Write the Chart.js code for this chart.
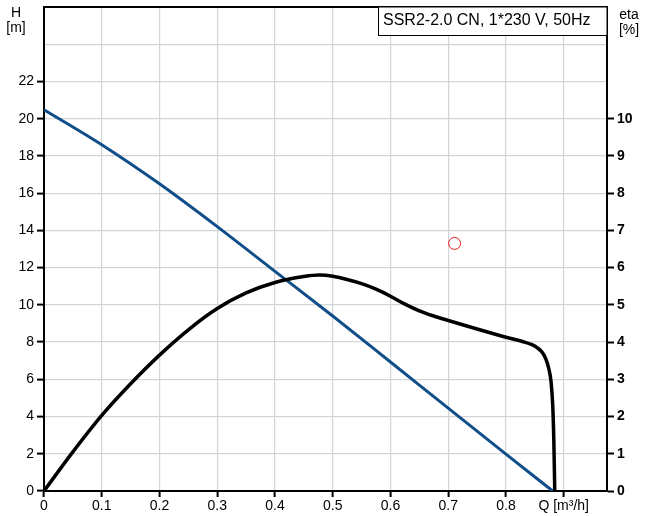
<!DOCTYPE html>
<html>
<head>
<meta charset="utf-8">
<script src="https://cdn.jsdelivr.net/npm/chart.js@4.4.1/dist/chart.umd.min.js"></script>
<style>
  html, body { margin: 0; padding: 0; background: #fff; }
  #wrap { width: 649px; height: 516px; }
</style>
</head>
<body>
<div id="wrap"><canvas id="myChart" width="649" height="516"></canvas></div>
<script>
// head curve H [m]
const qHead = [0, 0.1, 0.2, 0.3, 0.4, 0.5, 0.6, 0.7, 0.8, 0.881];
const headValues = [20.48, 18.6, 16.5, 14.2, 11.8, 9.4, 6.93, 4.45, 1.98, 0];

// efficiency curve eta [%]
const qEta = [0, 0.05, 0.1, 0.15, 0.2, 0.25, 0.3, 0.35, 0.4, 0.45, 0.477, 0.5, 0.55, 0.575, 0.6, 0.625, 0.65, 0.675, 0.7, 0.75, 0.8, 0.83, 0.845, 0.855, 0.863, 0.869, 0.874, 0.878, 0.881, 0.883, 0.8845];
const etaValues = [0, 1.05, 2.03, 2.88, 3.65, 4.33, 4.9, 5.32, 5.6, 5.76, 5.8, 5.77, 5.57, 5.42, 5.23, 5.02, 4.84, 4.7, 4.58, 4.35, 4.13, 4.01, 3.93, 3.84, 3.72, 3.55, 3.3, 2.95, 2.3, 1.3, 0];

// duty point
const dutyQ = [0.711];
const dutyH = [13.3];

const titleText = 'SSR2-2.0 CN, 1*230 V, 50Hz';
const FONT = '"Liberation Sans", Arial, sans-serif';

function toPoints(xs, ys) {
    return xs.map((x, i) => ({ x: x, y: ys[i] }));
}

const frame = {
    id: 'frame',
    afterDraw(chart) {
        const ctx = chart.ctx;
        const a = chart.chartArea;
        ctx.save();
        // top border
        ctx.strokeStyle = '#000';
        ctx.lineWidth = 2;
        ctx.beginPath();
        ctx.moveTo(a.left - 1, a.top);
        ctx.lineTo(a.right + 1, a.top);
        ctx.stroke();
        // title box
        ctx.fillStyle = '#fff';
        ctx.fillRect(378, a.top, a.right - 378, 28);
        ctx.lineWidth = 1;
        ctx.strokeRect(378.5, a.top, a.right - 378.5, 28.5);
        ctx.fillStyle = '#000';
        ctx.font = '16px ' + FONT;
        ctx.textBaseline = 'middle';
        ctx.textAlign = 'left';
        ctx.fillText(titleText, 383, a.top + 14);
        // axis titles
        ctx.textAlign = 'center';
        ctx.font = '14px ' + FONT;
        ctx.fillText('H', 16, 13);
        ctx.fillText('[m]', 16, 28);
        ctx.fillText('eta', 629, 15);
        ctx.fillText('[%]', 629, 30);
        ctx.restore();
    }
};

const hideAbove = (limit) => (c) => (c.tick && c.tick.value > limit ? 'rgba(0,0,0,0)' : '#000');

const config = {
    type: 'line',
    data: {
        datasets: [
            {
                label: 'eta',
                data: toPoints(qEta, etaValues),
                yAxisID: 'yEta',
                borderColor: '#000',
                borderWidth: 3.5,
                pointRadius: 0,
                cubicInterpolationMode: 'monotone',
                fill: false
            },
            {
                label: 'H',
                data: toPoints(qHead, headValues),
                yAxisID: 'y',
                borderColor: 'rgb(16, 78, 138)',
                borderWidth: 3,
                pointRadius: 0,
                cubicInterpolationMode: 'monotone',
                fill: false
            },
            {
                label: 'duty',
                type: 'scatter',
                data: toPoints(dutyQ, dutyH),
                yAxisID: 'y',
                pointRadius: 6,
                pointBorderWidth: 1,
                borderColor: 'rgb(230, 30, 30)',
                backgroundColor: 'rgba(0,0,0,0)'
            }
        ]
    },
    options: {
        responsive: false,
        animation: false,
        layout: { padding: { top: 6, left: 0, right: 0, bottom: 0 } },
        plugins: {
            legend: { display: false },
            tooltip: { enabled: false }
        },
        scales: {
            x: {
                type: 'linear',
                min: 0,
                max: 0.975,
                border: { color: '#000', width: 2 },
                grid: { color: '#d3d5d8', lineWidth: 1.2, tickColor: '#000', tickWidth: 2, tickLength: 6 },
                ticks: {
                    stepSize: 0.1,
                    includeBounds: false,
                    maxRotation: 0,
                    autoSkip: false,
                    padding: 1,
                    color: '#000',
                    font: { family: FONT, size: 14 },
                    callback: function(v) {
                        const r = Math.round(v * 10) / 10;
                        if (r === 0.9) return 'Q [m³/h]';
                        return String(r);
                    }
                },
                afterFit(scale) { scale.height = 25; }
            },
            y: {
                position: 'left',
                min: 0,
                max: 26,
                border: { color: '#000', width: 2 },
                grid: { color: '#d3d5d8', lineWidth: 1.2, tickColor: hideAbove(22), tickWidth: 2, tickLength: 7 },
                ticks: {
                    stepSize: 2,
                    padding: 3,
                    color: '#000',
                    font: { family: FONT, size: 14 },
                    callback: v => (v > 22 ? '' : v)
                },
                afterFit(scale) { scale.width = 44; scale.paddingTop = 0; }
            },
            yEta: {
                position: 'right',
                min: 0,
                max: 13,
                border: { color: '#000', width: 2 },
                grid: { drawOnChartArea: false, tickColor: hideAbove(10), tickWidth: 2, tickLength: 7 },
                ticks: {
                    stepSize: 1,
                    padding: 3,
                    color: '#000',
                    font: { family: FONT, size: 14, weight: 'bold' },
                    callback: v => (v > 10 ? '' : v)
                },
                afterFit(scale) { scale.width = 42; scale.paddingTop = 0; }
            }
        }
    },
    plugins: [frame]
};

const ctx = document.getElementById('myChart').getContext('2d');
new Chart(ctx, config);
</script>
</body>
</html>
